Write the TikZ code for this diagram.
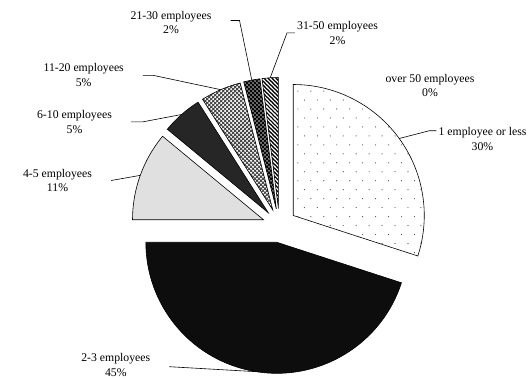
\documentclass[tikz,border=0pt]{standalone}
\usepackage{fontspec}
\setmainfont{Liberation Serif}
\usetikzlibrary{patterns}

\pgfdeclarepatternformonly{sparsedots}{\pgfqpoint{-1pt}{-1pt}}{\pgfqpoint{8pt}{10pt}}{\pgfqpoint{13pt}{18pt}}{%
  \pgfpathcircle{\pgfqpoint{0pt}{0pt}}{0.6pt}%
  \pgfpathcircle{\pgfqpoint{6.5pt}{9pt}}{0.6pt}%
  \pgfusepath{fill}}
\pgfdeclarepatternformonly{lattice}{\pgfqpoint{-1pt}{-1pt}}{\pgfqpoint{5pt}{5pt}}{\pgfqpoint{4pt}{4pt}}{%
  \pgfsetlinewidth{0.8pt}%
  \pgfpathmoveto{\pgfqpoint{0pt}{0pt}}\pgfpathlineto{\pgfqpoint{4pt}{4pt}}%
  \pgfpathmoveto{\pgfqpoint{0pt}{4pt}}\pgfpathlineto{\pgfqpoint{4pt}{0pt}}%
  \pgfusepath{stroke}}
\pgfdeclarepatternformonly{widestripes}{\pgfqpoint{-1pt}{-1pt}}{\pgfqpoint{5pt}{5pt}}{\pgfqpoint{4pt}{4pt}}{%
  \pgfsetlinewidth{1.1pt}%
  \pgfpathmoveto{\pgfqpoint{-1pt}{5pt}}\pgfpathlineto{\pgfqpoint{5pt}{-1pt}}%
  \pgfusepath{stroke}}

\begin{document}
\begin{tikzpicture}[x=1bp,y=1bp,
  slice/.style={draw=black,line width=0.6pt},
  leader/.style={line width=0.6pt},
  lbl/.style={align=center,inner sep=2pt,font=\fontsize{11.8}{15}\selectfont}]

\useasboundingbox (0,0) rectangle (532,378);
\coordinate (C) at (279.5,152.5);

\draw[slice,preaction={fill=white},pattern=sparsedots,pattern color=black!70] ([shift={(36:17)}]C) -- ++(90:131) arc[start angle=90,end angle=-18,radius=131] -- cycle;
\draw[slice,fill=black!95] ([shift={(-99:17)}]C) -- ++(-18:131) arc[start angle=-18,end angle=-180,radius=131] -- cycle;
\draw[slice,fill=black!12] ([shift={(160.2:17)}]C) -- ++(180:131) arc[start angle=180,end angle=140.4,radius=131] -- cycle;
\draw[slice,fill=black!85] ([shift={(131.4:17)}]C) -- ++(140.4:131) arc[start angle=140.4,end angle=122.4,radius=131] -- cycle;
\draw[slice,preaction={fill=white},pattern=lattice,pattern color=black!75] ([shift={(113.4:17)}]C) -- ++(122.4:131) arc[start angle=122.4,end angle=104.4,radius=131] -- cycle;
\draw[slice,preaction={fill=black!50},pattern=lattice,pattern color=black] ([shift={(100.8:17)}]C) -- ++(104.4:131) arc[start angle=104.4,end angle=97.2,radius=131] -- cycle;
\draw[slice,preaction={fill=black},pattern=widestripes,pattern color=white] ([shift={(93.6:17)}]C) -- ++(97.2:131) arc[start angle=97.2,end angle=90,radius=131] -- cycle;

\coordinate (m1) at ([shift={(36:148)}]C);
\coordinate (m23) at ([shift={(-99:148)}]C);
\coordinate (m45) at ([shift={(160.2:148)}]C);
\coordinate (m610) at ([shift={(131.4:148)}]C);
\coordinate (m1120) at ([shift={(113.4:148)}]C);
\coordinate (m2130) at ([shift={(100.8:148)}]C);
\coordinate (m3150) at ([shift={(93.6:148)}]C);

\node[lbl] (over50) at (430,292.5) {over 50 employees\\0\%};
\node[lbl] (lbl1) at (482.5,238.7) {1 employee or less\\30\%};
\node[lbl] (lbl23) at (115.8,13.3) {2-3 employees\\45\%};
\node[lbl] (lbl45) at (57.5,197.5) {4-5 employees\\11\%};
\node[lbl] (lbl610) at (74.5,256.2) {6-10 employees\\5\%};
\node[lbl] (lbl1120) at (83.7,302.7) {11-20 employees\\5\%};
\node[lbl] (lbl2130) at (171,355.5) {21-30 employees\\2\%};
\node[lbl] (lbl3150) at (337.5,345.1) {31-50 employees\\2\%};

\draw[leader] ([shift={(0,8.6)}]lbl1.west) -- ++(-7,0) -- (m1);
\draw[leader] ([shift={(17,-2)}]lbl23.east) -- (m23);
\draw[leader] ([shift={(17,0)}]lbl45.east) -- (m45);
\draw[leader] ([shift={(17,0)}]lbl610.east) -- ++(12,0) -- (m610);
\draw[leader] ([shift={(17,0)}]lbl1120.east) -- ++(10,0) -- (m1120);
\draw[leader] ([shift={(17,2)}]lbl2130.east) -- ++(9,0) -- (m2130);
\draw[leader] (lbl3150.west) -- ++(-8,0) -- (m3150);

\end{tikzpicture}
\end{document}
